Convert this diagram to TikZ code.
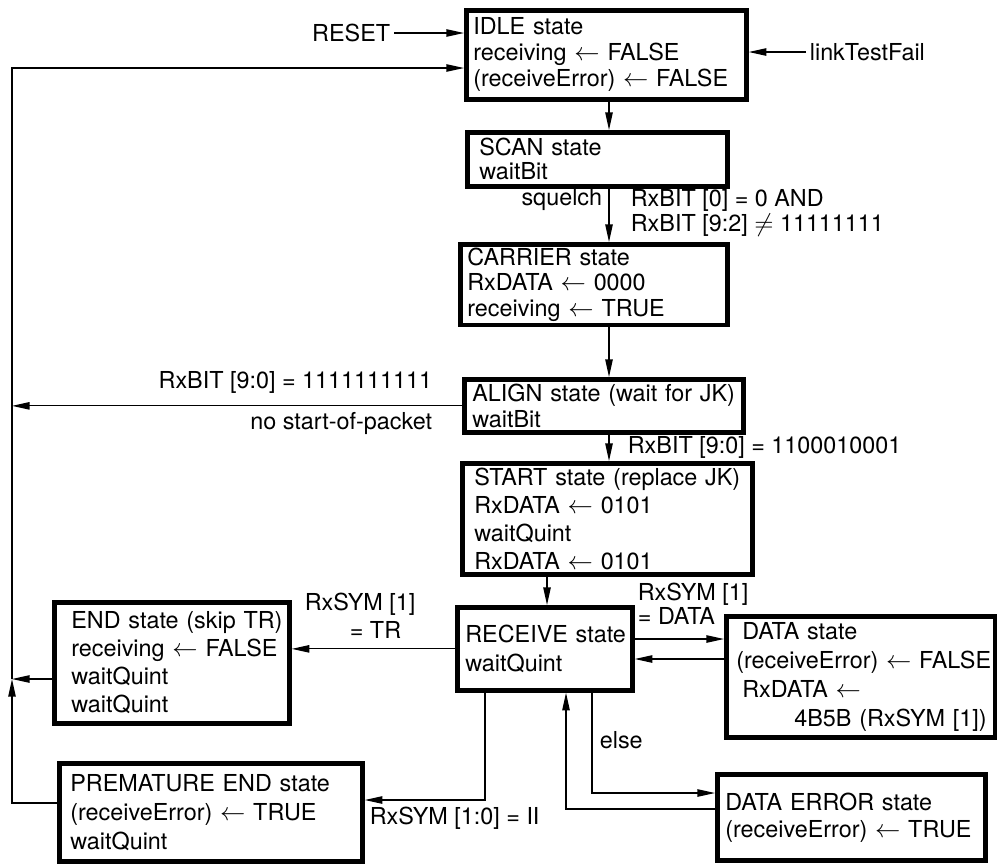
\documentclass[tikz,border=0pt]{standalone}
\usepackage{fontspec}
\setmainfont{TeX Gyre Heros}
\usetikzlibrary{arrows.meta}
\hyphenpenalty=10000
\exhyphenpenalty=10000

\begin{document}
\begin{tikzpicture}[
  x=0.02cm, y=-0.02cm,
  state/.style={draw, line width=2.7pt, anchor=north west, align=left, inner xsep=0.16cm, inner ysep=2pt, font=\fontsize{13.3}{16}\selectfont},
  txt/.style={inner sep=2pt, align=left, font=\fontsize{13.3}{14.5}\selectfont},
  arrow/.style={-{Triangle[length=10pt,width=4.2pt]}, line width=0.7pt},
  line/.style={line width=0.7pt}
]
\useasboundingbox (0,0) rectangle (997,863);

% Main chain of states
\node[state, inner xsep=0.14cm, text width=5.32cm, minimum height=1.78cm, font=\fontsize{13.3}{14.8}\selectfont] (idle) at (464,8)
  {IDLE~state\\receiving~$\leftarrow$~FALSE\\(receiveError)~$\leftarrow$~FALSE};
\node[state, inner xsep=0.24cm, text width=4.72cm, minimum height=1.08cm, font=\fontsize{13.3}{13.7}\selectfont] (scan) at (465,130)
  {SCAN~state\\waitBit};
\node[state, inner xsep=0.14cm, text width=5.06cm, minimum height=1.54cm, font=\fontsize{13.3}{14.5}\selectfont] (carrier) at (458,242)
  {CARRIER~state\\RxDATA~$\leftarrow$~0000\\receiving~$\leftarrow$~TRUE};
\node[state, text width=5.26cm, minimum height=1.06cm, font=\fontsize{13.3}{14.8}\selectfont] (align) at (462,377)
  {ALIGN~state~(wait~for~JK)\\waitBit};
\node[state, inner xsep=0.24cm, text width=5.32cm, minimum height=2.22cm] (start) at (460,461)
  {START~state~(replace~JK)\\RxDATA~$\leftarrow$~0101\\waitQuint\\RxDATA~$\leftarrow$~0101};

% Receive loop
\node[state, text width=3.18cm, minimum height=1.66cm, font=\fontsize{13.3}{17}\selectfont] (receive) at (455,605)
  {RECEIVE~state\\waitQuint};
\node[state, inner xsep=0.2cm, text width=4.98cm, minimum height=2.42cm, font=\fontsize{13.3}{16.5}\selectfont] (data) at (724,614)
  {\hspace*{0.12cm}DATA~state\\(receiveError)~$\leftarrow$~FALSE\\\hspace*{0.12cm}RxDATA~$\leftarrow$\\\hspace*{1.16cm}4B5B~(RxSYM~[1])};
\node[state, inner xsep=0.34cm, text width=4.02cm, minimum height=2.42cm] (endst) at (52,600)
  {END~state~(skip~TR)\\receiving~$\leftarrow$~FALSE\\waitQuint\\waitQuint};
\node[state, inner xsep=0.22cm, text width=5.62cm, minimum height=1.96cm, font=\fontsize{13.3}{16.5}\selectfont] (premature) at (57,761)
  {PREMATURE~END~state\\(receiveError)~$\leftarrow$~TRUE\\waitQuint};
\node[state, text width=5.04cm, minimum height=1.72cm, font=\fontsize{13.3}{15.4}\selectfont] (dataerror) at (715,772)
  {DATA~ERROR~state\\(receiveError)~$\leftarrow$~TRUE};

% Inputs
\node[txt, anchor=east] (reset) at (394,33) {RESET};
\node[txt, anchor=west] (ltf) at (806,52) {linkTestFail};

% Transition labels
\node[txt, anchor=east] (squelch) at (606,200) {squelch};
\node[txt, anchor=west] (carcond) at (627,213) {RxBIT~[0]~=~0~AND\\RxBIT~[9:2]~$\neq$~11111111};
\node[txt, anchor=east] (allones) at (436,382) {RxBIT~[9:0]~=~1111111111};
\node[txt, anchor=east] (nosop) at (436,423) {no~start-of-packet};
\node[txt, anchor=west] (jk) at (624,447) {RxBIT~[9:0]~=~1100010001};
\node[txt, anchor=west, font=\fontsize{13.3}{16}\selectfont] (symtr) at (301,616) {RxSYM~[1]\\\hspace*{0.9cm}=~TR};
\node[txt, anchor=west, font=\fontsize{13.3}{12.5}\selectfont] (symdata) at (634,604) {RxSYM~[1]\\=~DATA};
\node[txt, anchor=west] (else) at (596,740) {else};
\node[txt, anchor=west] (symii) at (366,818) {RxSYM~[1:0]~=~II};

% Helper points
\coordinate (spine) at (609,0);
\coordinate (sr) at (547,0);
\coordinate (busT) at (12,68);
\coordinate (busM) at (12,679);
\coordinate (busB) at (12,803);
\coordinate (rd1) at (0,639);
\coordinate (rd2) at (0,659);
\coordinate (pe) at (485,800);
\coordinate (de1) at (592,793);
\coordinate (de2) at (566,809);

% Arrows
\draw[arrow] (reset) -- (reset -| idle.west);
\draw[arrow] (ltf) -- (ltf -| idle.east);
\foreach \a/\b in {idle/scan, scan/carrier, carrier/align, align/start}
  \draw[arrow] (\a.south -| spine) -- (\b.north -| spine);
\draw[arrow] (start.south -| sr) -- (receive.north -| sr);
\draw[arrow] (receive.east |- rd1) -- (data.west |- rd1);
\draw[arrow] (data.west |- rd2) -- (receive.east |- rd2);
\draw[arrow] (receive.west) -- (receive.west -| endst.east);
\draw[arrow] (receive.south -| pe) -- (pe) -- (pe -| premature.east);
\draw[arrow] (receive.south -| de1) -- (de1) -- (de1 -| dataerror.west);
\draw[arrow] (de2 -| dataerror.west) -- (de2) -- (receive.south -| de2);

% Return bus to IDLE
\draw[arrow] (align.west) -- (align.west -| busT);
\draw[arrow] (endst.west |- busM) -- (busM);
\draw[arrow] (premature.west |- busB) -- (busB) -- (busM);
\draw[arrow] (busM) -- (busT) -- (busT -| idle.west);

\end{tikzpicture}
\end{document}
